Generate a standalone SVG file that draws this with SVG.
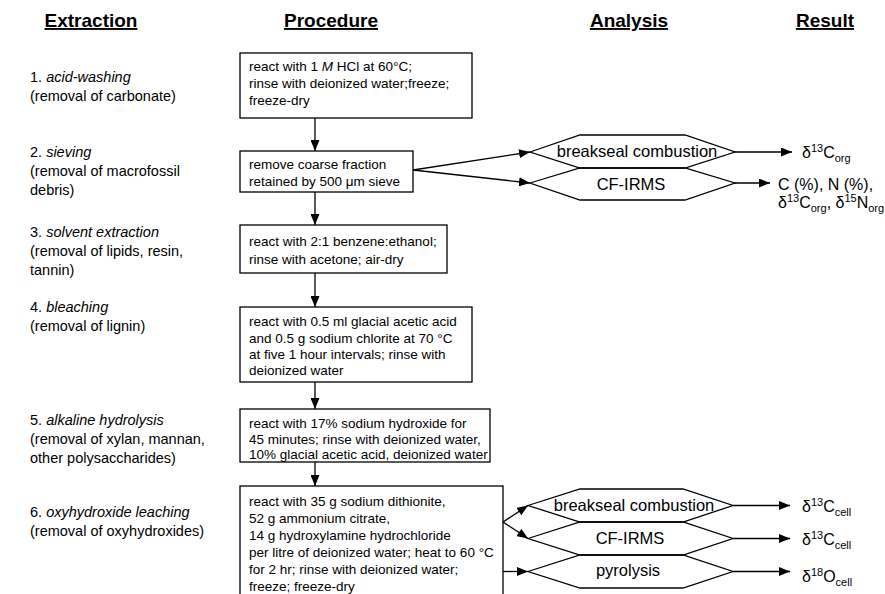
<svg xmlns="http://www.w3.org/2000/svg" width="885" height="594" viewBox="0 0 885 594">
<style>
text{font-family:"Liberation Sans",Arial,sans-serif;fill:#000}
.h{font-size:19px;font-weight:bold;text-decoration:underline;text-anchor:middle}
.lab{font-size:14.5px}
.bx{font-size:13.5px}
.hx{font-size:16.5px;text-anchor:middle}
.res{font-size:16px}
.s{font-size:11px}
.box{fill:#fff;stroke:#000;stroke-width:1.3}
.hex{fill:none;stroke:#000;stroke-width:1.3;stroke-linejoin:miter}
.c{fill:none;stroke:#000;stroke-width:1.3}
.a{marker-end:url(#ah)}
</style>
<defs>
<marker id="ah" markerUnits="userSpaceOnUse" markerWidth="11" markerHeight="9" refX="11" refY="4.5" orient="auto">
<path d="M0,0 L11,4.5 L0,9 z" fill="#000"/>
</marker>
</defs>
<rect width="885" height="594" fill="#fff"/>
<g id="headers">
<text class="h" x="91" y="27">Extraction</text>
<text class="h" x="331" y="27">Procedure</text>
<text class="h" x="629" y="27">Analysis</text>
<text class="h" x="825" y="27">Result</text>
</g>
<g id="labels">
<text class="lab" x="30" y="82">1. <tspan font-style="italic">acid-washing</tspan></text>
<text class="lab" x="30" y="101">(removal of carbonate)</text>
<text class="lab" x="30" y="157">2. <tspan font-style="italic">sieving</tspan></text>
<text class="lab" x="30" y="176">(removal of macrofossil</text>
<text class="lab" x="30" y="195">debris)</text>
<text class="lab" x="30" y="237">3. <tspan font-style="italic">solvent extraction</tspan></text>
<text class="lab" x="30" y="256">(removal of lipids, resin,</text>
<text class="lab" x="30" y="275">tannin)</text>
<text class="lab" x="30" y="312">4. <tspan font-style="italic">bleaching</tspan></text>
<text class="lab" x="30" y="331">(removal of lignin)</text>
<text class="lab" x="30" y="425">5. <tspan font-style="italic">alkaline hydrolysis</tspan></text>
<text class="lab" x="30" y="444">(removal of xylan, mannan,</text>
<text class="lab" x="30" y="463">other polysaccharides)</text>
<text class="lab" x="30" y="517">6. <tspan font-style="italic">oxyhydroxide leaching</tspan></text>
<text class="lab" x="30" y="536">(removal of oxyhydroxides)</text>
</g>
<g id="connectors">
<line class="c a" x1="315" y1="118" x2="315" y2="151"/>
<line class="c a" x1="315" y1="192" x2="315" y2="225"/>
<line class="c a" x1="315" y1="273" x2="315" y2="307"/>
<line class="c a" x1="315" y1="382" x2="315" y2="409"/>
<line class="c a" x1="315" y1="462" x2="315" y2="486"/>
<line class="c a" x1="413" y1="170" x2="530" y2="152"/>
<line class="c a" x1="413" y1="170" x2="530" y2="183"/>
<line class="c a" x1="735" y1="152" x2="792" y2="152"/>
<line class="c a" x1="735" y1="183" x2="770" y2="183"/>
<line class="c a" x1="503" y1="522" x2="528" y2="505.5"/>
<line class="c a" x1="503" y1="522" x2="528" y2="538.5"/>
<line class="c a" x1="503" y1="571.5" x2="528" y2="571.5"/>
<line class="c a" x1="733" y1="505.5" x2="790" y2="505.5"/>
<line class="c a" x1="733" y1="538.5" x2="790" y2="538.5"/>
<line class="c a" x1="733" y1="571.5" x2="790" y2="571.5"/>
</g>
<g id="box1">
<rect class="box" x="240" y="53" width="232" height="65"/>
<text class="bx" x="249" y="71">react with 1 <tspan font-style="italic">M</tspan> HCl at 60°C;</text>
<text class="bx" x="249" y="88">rinse with deionized water;freeze;</text>
<text class="bx" x="249" y="105">freeze-dry</text>
</g>
<g id="box2">
<rect class="box" x="240" y="151" width="173" height="41"/>
<text class="bx" x="249" y="169">remove coarse fraction</text>
<text class="bx" x="249" y="186">retained by 500 μm sieve</text>
</g>
<g id="box3">
<rect class="box" x="240" y="225" width="207" height="48"/>
<text class="bx" x="249" y="246">react with 2:1 benzene:ethanol;</text>
<text class="bx" x="249" y="264">rinse with acetone; air-dry</text>
</g>
<g id="box4">
<rect class="box" x="240" y="307" width="232" height="75"/>
<text class="bx" x="249" y="326">react with 0.5 ml glacial acetic acid</text>
<text class="bx" x="249" y="343">and 0.5 g sodium chlorite at 70 °C</text>
<text class="bx" x="249" y="359">at five 1 hour intervals; rinse with</text>
<text class="bx" x="249" y="375">deionized water</text>
</g>
<g id="box5">
<rect class="box" x="240" y="409" width="250" height="53"/>
<text class="bx" x="249" y="428">react with 17% sodium hydroxide for</text>
<text class="bx" x="249" y="443.5">45 minutes; rinse with deionized water,</text>
<text class="bx" x="249" y="459">10% glacial acetic acid, deionized water</text>
</g>
<g id="box6">
<rect class="box" x="240" y="486" width="263" height="120"/>
<text class="bx" x="249" y="506">react with 35 g sodium dithionite,</text>
<text class="bx" x="249" y="523">52 g ammonium citrate,</text>
<text class="bx" x="249" y="540">14 g hydroxylamine hydrochloride</text>
<text class="bx" x="249" y="557">per litre of deionized water; heat to 60 °C</text>
<text class="bx" x="249" y="574">for 2 hr; rinse with deionized water;</text>
<text class="bx" x="249" y="591">freeze; freeze-dry</text>
</g>
<g id="hex-breakseal-org">
<polygon class="hex" points="530,152 580,135 685,135 735,152 685,168 580,168"/>
<text class="hx" x="637" y="157">breakseal combustion</text>
</g>
<g id="hex-cfirms-org">
<polygon class="hex" points="530,183 580,168 685,168 735,183 685,200 580,200"/>
<text class="hx" x="631" y="190">CF-IRMS</text>
</g>
<g id="hex-breakseal-cell">
<polygon class="hex" points="528,505.5 580,489 683,489 733,505.5 683,522 580,522"/>
<text class="hx" x="634" y="511">breakseal combustion</text>
</g>
<g id="hex-cfirms-cell">
<polygon class="hex" points="528,538.5 580,522 683,522 733,538.5 683,555 580,555"/>
<text class="hx" x="630" y="544">CF-IRMS</text>
</g>
<g id="hex-pyrolysis">
<polygon class="hex" points="528,571.5 580,555 683,555 733,571.5 683,588 580,588"/>
<text class="hx" x="628" y="576">pyrolysis</text>
</g>
<g id="results">
<text class="res" x="802" y="158">δ<tspan class="s" dy="-6">13</tspan><tspan dy="6">C</tspan><tspan class="s" dy="4">org</tspan></text>
<text class="res" x="778" y="190">C (%), N (%),</text>
<text class="res" x="778" y="208">δ<tspan class="s" dy="-6">13</tspan><tspan dy="6">C</tspan><tspan class="s" dy="4">org</tspan><tspan dy="-4">, δ</tspan><tspan class="s" dy="-6">15</tspan><tspan dy="6">N</tspan><tspan class="s" dy="4">org</tspan></text>
<text class="res" x="802" y="512">δ<tspan class="s" dy="-6">13</tspan><tspan dy="6">C</tspan><tspan class="s" dy="4">cell</tspan></text>
<text class="res" x="802" y="545">δ<tspan class="s" dy="-6">13</tspan><tspan dy="6">C</tspan><tspan class="s" dy="4">cell</tspan></text>
<text class="res" x="802" y="582">δ<tspan class="s" dy="-6">18</tspan><tspan dy="6">O</tspan><tspan class="s" dy="4">cell</tspan></text>
</g>
</svg>
